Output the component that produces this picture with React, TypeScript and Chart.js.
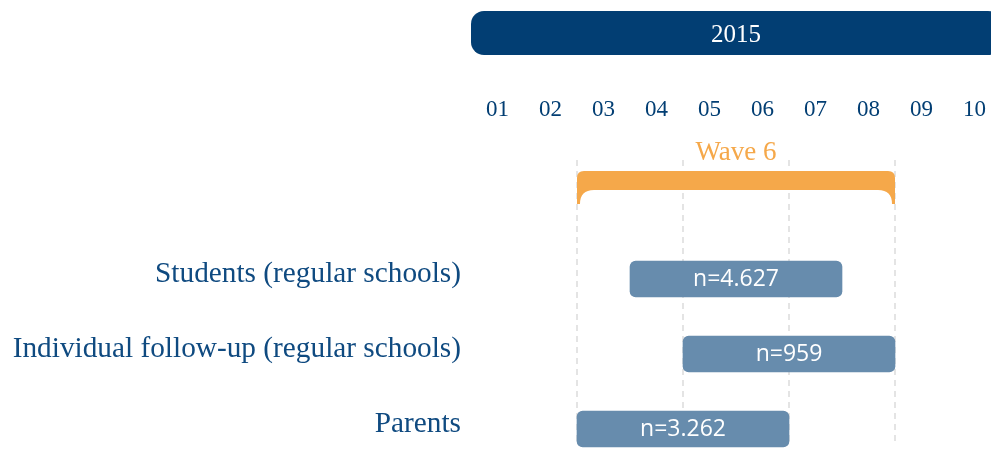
import React, { useEffect, useRef } from "react";
import { Chart, registerables } from "chart.js";

Chart.register(...registerables);

// ---- data ----
const categories = [
  "Students (regular schools)",
  "Individual follow-up (regular schools)",
  "Parents",
];
// months elapsed since 1 Jan 2015 (3 = start of April)
const barStarts = [3, 4, 2];
const barEnds = [7, 8, 6];
const sampleLabels = ["n=4.627", "n=959", "n=3.262"];

const monthLabels = ["01", "02", "03", "04", "05", "06", "07", "08", "09", "10"];
const yearLabel = "2015";
const yearStart = 0;
const yearEnd = 10;

const waveLabel = "Wave 6";
const waveStart = 2;
const waveEnd = 8;

const gridMonths = [2, 4, 6, 8];
const visibleMonths = 520 / 53;

// ---- styles ----
const DARK_BLUE = "#023e73";
const LABEL_BLUE = "#0f4a80";
const BAR_BLUE = "#678cad";
const ORANGE = "#f5a84a";
const SERIF = "'Liberation Serif', 'Times New Roman', serif";
const SANS = "'Open Sans', 'Noto Sans', sans-serif";

const decorPlugin = {
  id: "decor",
  beforeDatasetsDraw(chart: any) {
    const { ctx } = chart;
    const x = chart.scales.x;
    ctx.save();

    // year banner
    const bx0 = x.getPixelForValue(yearStart);
    const bx1 = x.getPixelForValue(yearEnd);
    const by0 = 11;
    const by1 = 55;
    ctx.fillStyle = DARK_BLUE;
    ctx.beginPath();
    ctx.roundRect(bx0, by0, bx1 - bx0, by1 - by0, 13);
    ctx.fill();
    ctx.fillStyle = "#ffffff";
    ctx.font = `25px ${SERIF}`;
    ctx.textAlign = "center";
    ctx.textBaseline = "middle";
    ctx.fillText(yearLabel, (bx0 + bx1) / 2, 35);

    // dashed month separators
    ctx.strokeStyle = "#e4e4e4";
    ctx.lineWidth = 2;
    ctx.setLineDash([6, 5]);
    gridMonths.forEach((m) => {
      const px = Math.round(x.getPixelForValue(m));
      ctx.beginPath();
      ctx.moveTo(px, 160);
      ctx.lineTo(px, 446);
      ctx.stroke();
    });
    ctx.setLineDash([]);

    // wave bracket
    const wx0 = x.getPixelForValue(waveStart);
    const wx1 = x.getPixelForValue(waveEnd);
    const top = 171;
    const bandBottom = 190;
    const tip = 204;
    const r = 7;
    ctx.fillStyle = ORANGE;
    ctx.beginPath();
    ctx.moveTo(wx0, top + r);
    ctx.quadraticCurveTo(wx0, top, wx0 + r, top);
    ctx.lineTo(wx1 - r, top);
    ctx.quadraticCurveTo(wx1, top, wx1, top + r);
    ctx.lineTo(wx1, tip);
    ctx.lineTo(wx1 - 3, tip);
    ctx.quadraticCurveTo(wx1 - 3, bandBottom, wx1 - 17, bandBottom);
    ctx.lineTo(wx0 + 17, bandBottom);
    ctx.quadraticCurveTo(wx0 + 3, bandBottom, wx0 + 3, tip);
    ctx.lineTo(wx0, tip);
    ctx.closePath();
    ctx.fill();

    ctx.font = `27px ${SERIF}`;
    ctx.textAlign = "center";
    ctx.textBaseline = "alphabetic";
    ctx.fillText(waveLabel, (wx0 + wx1) / 2, 160);

    ctx.restore();
  },
  afterDatasetsDraw(chart: any) {
    const { ctx } = chart;
    const meta = chart.getDatasetMeta(0);
    ctx.save();
    ctx.fillStyle = "#ffffff";
    ctx.font = `23px ${SANS}`;
    ctx.textAlign = "center";
    ctx.textBaseline = "middle";
    meta.data.forEach((el: any, i: number) => {
      const cx = (el.x + el.base) / 2;
      ctx.fillText(sampleLabels[i], cx, el.y);
    });
    ctx.restore();
  },
};

export default function App() {
  const canvasRef = useRef<HTMLCanvasElement | null>(null);

  useEffect(() => {
    document.body.style.margin = "0";
    const canvas = canvasRef.current;
    if (!canvas) return;
    const chart = new Chart(canvas, {
      type: "bar",
      data: {
        labels: categories,
        datasets: [
          {
            data: barStarts.map((s, i) => [s, barEnds[i]]) as any,
            backgroundColor: BAR_BLUE,
            borderRadius: 6,
            borderSkipped: false,
            barThickness: 36,
            clip: false as any,
          },
        ],
      },
      options: {
        indexAxis: "y",
        animation: false,
        responsive: false,
        devicePixelRatio: 1,
        layout: { padding: { top: 0, bottom: 20, left: 0, right: 0 } },
        plugins: {
          legend: { display: false },
          tooltip: { enabled: false },
        },
        scales: {
          x: {
            type: "linear",
            position: "top",
            min: 0,
            max: visibleMonths,
            grid: { display: false, drawTicks: false },
            border: { display: false },
            afterBuildTicks: (s: any) => {
              s.ticks = monthLabels.map((_, i) => ({ value: i + 0.5 }));
            },
            afterFit: (s: any) => {
              s.height = 279;
              s.paddingLeft = 0;
              s.paddingRight = 0;
              s.paddingTop = 0;
              s.paddingBottom = 0;
            },
            ticks: {
              autoSkip: false,
              maxRotation: 0,
              padding: 155,
              color: DARK_BLUE,
              font: { family: SERIF, size: 23 },
              callback: (_v: any, i: number) => monthLabels[i],
            },
          },
          y: {
            type: "category",
            offset: false,
            grid: { display: false, drawTicks: false },
            border: { display: false },
            afterFit: (s: any) => {
              s.width = 471;
              s.paddingLeft = 0;
              s.paddingRight = 0;
              s.paddingTop = 0;
              s.paddingBottom = 0;
            },
            ticks: {
              padding: 10,
              labelOffset: -5,
              color: LABEL_BLUE,
              font: { family: SERIF, size: 29.3 },
            },
          },
        },
      },
      plugins: [decorPlugin],
    });
    return () => chart.destroy();
  }, []);

  return (
    <div style={{ width: 991, height: 449 }}>
      <canvas ref={canvasRef} width={991} height={449} />
    </div>
  );
}
